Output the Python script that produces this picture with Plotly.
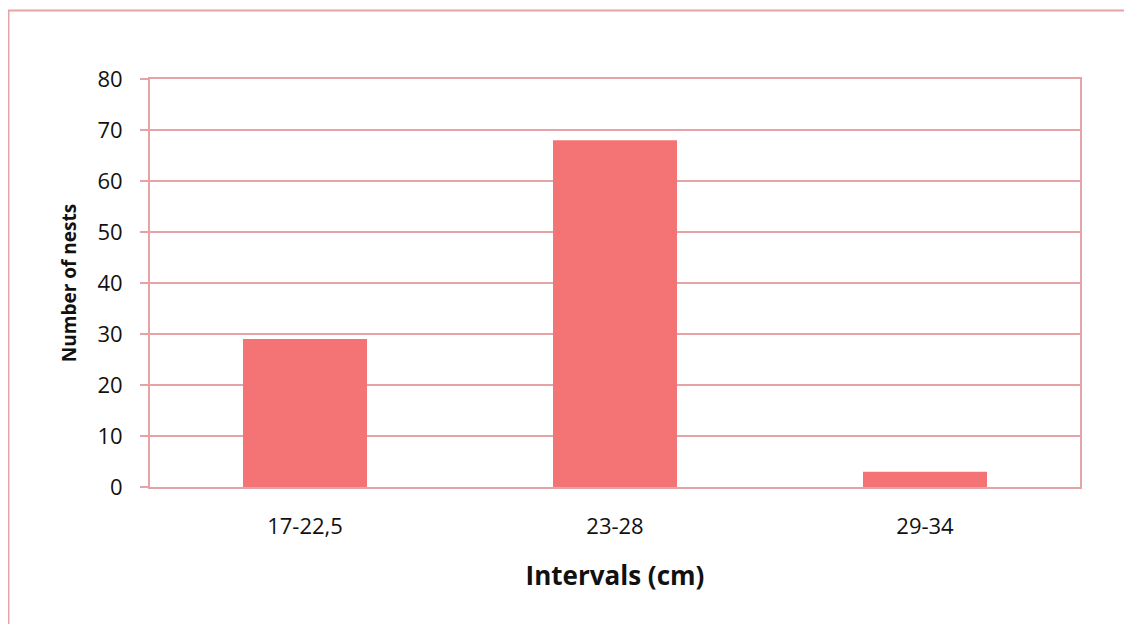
import plotly.graph_objects as go

categories = ["17-22,5", "23-28", "29-34"]
nests = [29, 68, 3]

line_col = "#E5A3A5"
bar_col = "#F47476"

fig = go.Figure(go.Bar(x=categories, y=nests, marker=dict(color=bar_col, line=dict(width=0)), width=0.4))

# page body has an 8px margin, so the figure is offset by 8px
W, H = 1124, 616
L, T = 142, 71
pw, ph = 930, 408
R = W - L - pw
B = H - T - ph

def px_x(x):
    return (x - L) / pw

def px_y(y):
    return (T + ph - y) / ph

fig.add_shape(type="rect", xref="paper", yref="paper",
              x0=px_x(0.5), x1=px_x(1200), y0=px_y(700), y1=px_y(2.5),
              line=dict(color=line_col, width=2), fillcolor="rgba(0,0,0,0)", layer="below")

fig.update_layout(
    width=W, height=H,
    margin=dict(l=L, r=R, t=T, b=B),
    paper_bgcolor="white", plot_bgcolor="white",
    font=dict(family="Open Sans", color="#111111", size=22),
    showlegend=False,
    xaxis=dict(
        showline=True, linecolor=line_col, linewidth=2, mirror=True,
        ticks="", showgrid=False,
        tickfont=dict(size=22), ticklabelstandoff=19,
        title=dict(text="<b>Intervals (cm)</b>", font=dict(size=26), standoff=27),
    ),
    yaxis=dict(
        range=[0, 80], dtick=10, showline=True, linecolor=line_col, linewidth=2, mirror=True,
        ticks="outside", ticklen=8, tickcolor=line_col, tickwidth=2,
        showgrid=True, gridcolor=line_col, gridwidth=1.5,
        zeroline=False, tickfont=dict(size=22), ticklabelstandoff=13,
        title=dict(text="<b>Number of nests</b>", font=dict(size=19), standoff=16),
    ),
)

fig.write_html("out.html")
